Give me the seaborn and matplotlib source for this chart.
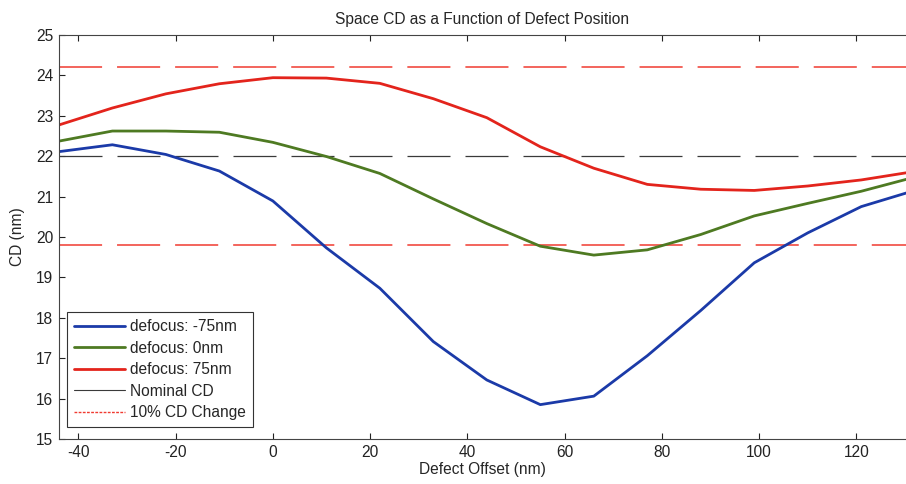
import matplotlib
matplotlib.use("Agg")
import matplotlib.pyplot as plt
import seaborn as sns
import pandas as pd
from matplotlib.lines import Line2D

offsets = [-44, -33, -22, -11, 0, 11, 22, 33, 44, 55, 66, 77, 88, 99, 110, 121, 132]
cd_m75 = [22.11, 22.28, 22.04, 21.63, 20.89, 19.73, 18.73, 17.41, 16.46, 15.85, 16.06,
          17.06, 18.18, 19.36, 20.1, 20.75, 21.15]
cd_0 = [22.37, 22.62, 22.62, 22.59, 22.34, 21.99, 21.57, 20.94, 20.33, 19.77, 19.55,
        19.68, 20.06, 20.52, 20.83, 21.13, 21.48]
cd_p75 = [22.77, 23.19, 23.54, 23.79, 23.94, 23.93, 23.8, 23.42, 22.95, 22.23, 21.7,
          21.3, 21.18, 21.15, 21.26, 21.41, 21.62]
series_names = ["defocus: -75nm", "defocus: 0nm", "defocus: 75nm"]
nominal_cd = 22.0
cd_limits = [24.2, 19.8]

df = pd.DataFrame({
    "offset": offsets * 3,
    "cd": cd_m75 + cd_0 + cd_p75,
    "series": sum([[n] * len(offsets) for n in series_names], []),
})

sns.set_theme(style="ticks")
plt.rcParams["font.family"] = ["Liberation Sans", "DejaVu Sans"]
plt.rcParams["axes.unicode_minus"] = False
FS = 11.2

fig = plt.figure(figsize=(9.06, 4.84), dpi=100)
ax = fig.add_axes([0.065, 0.093, 0.935, 0.835])

palette = {series_names[0]: "#1b3aa8", series_names[1]: "#4e7a22", series_names[2]: "#e3241c"}
sns.lineplot(data=df, x="offset", y="cd", hue="series", palette=palette,
             linewidth=2.0, ax=ax, legend=False, sort=False)

ref_red = "#f03a30"
ax.axhline(nominal_cd, color="#3a3a3a", lw=0.9, dashes=(34.4, 12), zorder=1)
for v in cd_limits:
    ax.axhline(v, color=ref_red, lw=1.1, dashes=(28.2, 9.8), zorder=1)

handles = [Line2D([], [], color=palette[n], lw=2.0) for n in series_names]
handles += [Line2D([], [], color="#3a3a3a", lw=0.8),
            Line2D([], [], color=ref_red, lw=1.0, ls=(0, (2, 1)))]
labels = series_names + ["Nominal CD", "10% CD Change"]
leg = ax.legend(handles, labels, loc="lower left", bbox_to_anchor=(0.0, 0.01),
                fontsize=FS, handlelength=3.3, handletextpad=0.35, labelspacing=0.42,
                fancybox=False, framealpha=1, edgecolor="#333333", borderpad=0.45)
leg.get_frame().set_linewidth(0.8)

ax.set_xlim(-44, 130.2)
ax.set_ylim(15, 25)
ax.set_xticks([-40, -20, 0, 20, 40, 60, 80, 100, 120])
ax.set_yticks(range(15, 26))
ax.tick_params(direction="in", length=4, width=0.8, top=True, right=False,
               labelsize=FS, colors="#222222", pad=4)
for s in ax.spines.values():
    s.set_color("#444444")
    s.set_linewidth(0.8)
ax.spines["right"].set_visible(False)
ax.set_xlabel("Defect Offset (nm)", fontsize=FS, labelpad=2)
ax.set_ylabel("CD (nm)", fontsize=FS, labelpad=8)
ax.set_title("Space CD as a Function of Defect Position", fontsize=FS, pad=8)

fig.savefig("out.png", dpi=100)
